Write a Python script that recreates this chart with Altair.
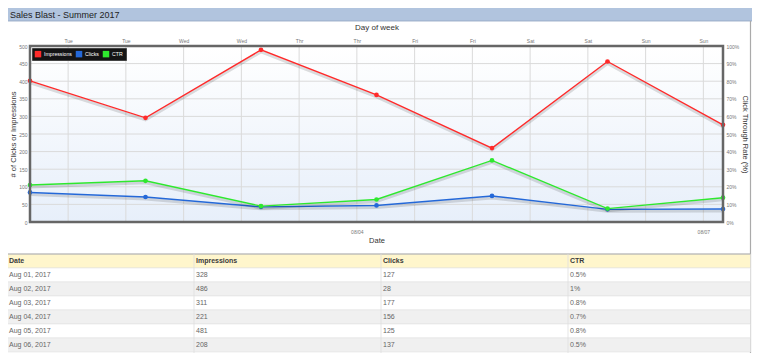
import altair as alt
import pandas as pd

TITLE = "Sales Blast - Summer 2017"

# --- chart data ---
points_t = [0, 1, 2, 3, 4, 5, 6]
impressions = [401, 296, 489, 361, 210, 456, 276]
clicks = [84, 71, 43, 47, 74, 36, 37]
ctr = [21.0, 23.4, 9.0, 12.8, 35.0, 7.6, 13.8]

series_names = ["Impressions", "Clicks", "CTR"]
series_colors = ["#ff2a2a", "#2468d8", "#2ee82e"]

day_tick_values = [0.33, 0.83, 1.33, 1.83, 2.33, 2.83, 3.33, 3.83, 4.33, 4.83, 5.33, 5.83]
day_tick_labels = ["Tue", "Tue", "Wed", "Wed", "Thr", "Thr", "Fri", "Fri", "Sat", "Sat", "Sun", "Sun"]
date_tick_values = [2.83, 5.83]
date_tick_labels = ["08/04", "08/07"]
left_ticks = [0, 50, 100, 150, 200, 250, 300, 350, 400, 450, 500]
right_ticks = [0, 10, 20, 30, 40, 50, 60, 70, 80, 90, 100]
hgrid = [50, 100, 150, 200, 250, 300, 350, 400, 450]

# --- table data ---
table_headers = ["Date", "Impressions", "Clicks", "CTR"]
table_dates = ["Aug 01, 2017", "Aug 02, 2017", "Aug 03, 2017", "Aug 04, 2017", "Aug 05, 2017", "Aug 06, 2017"]
table_impr = ["328", "486", "311", "221", "481", "208"]
table_clicks = ["127", "28", "177", "156", "125", "137"]
table_ctr = ["0.5%", "1%", "0.8%", "0.7%", "0.8%", "0.5%"]

W, H = 693, 176
PAD_L, PAD_T, PAD_R, PAD_B = 22, 38, 29, 131
RIGHT_EDGE = W + PAD_R - 1.5
FONT = "Liberation Sans"


def label_expr(values, labels):
    expr = "''"
    for v, l in reversed(list(zip(values, labels))):
        expr = f"abs(datum.value - {v}) < 0.01 ? '{l}' : ({expr})"
    return expr


xscale = alt.Scale(domain=[0, 6], nice=False, zero=False)
lscale = alt.Scale(domain=[0, 500], nice=False)
rscale = alt.Scale(domain=[0, 100], nice=False)
color_scale = alt.Scale(domain=series_names, range=series_colors)
legend = alt.Legend(
    orient="top-left", direction="horizontal", offset=2, padding=2.5,
    fillColor="#141414", strokeColor="#444", symbolType="square",
    symbolSize=42, symbolStrokeWidth=0, labelFontSize=5.2, labelColor="white",
    labelOffset=2.5, columnPadding=3, labelFont=FONT,
)
axis_common = dict(ticks=False, domain=False, grid=False, labelFontSize=5,
                   labelColor="#777", titleFontSize=7.5, titleColor="#333",
                   titleFontWeight="normal", labelFont=FONT, titleFont=FONT)

df_main = pd.DataFrame({"t": points_t, "Impressions": impressions,
                        "Clicks": clicks, "CTR": ctr})

one = alt.Data(values=[{"k": 1}])

# background gradient
bg = alt.Chart(one).mark_rect(
    fill=alt.Gradient(gradient="linear",
                      stops=[alt.GradientStop(color="#ffffff", offset=0),
                             alt.GradientStop(color="#e7effa", offset=1)],
                      x1=0, x2=0, y1=0, y2=1)
).encode(x=alt.value(0), x2=alt.value(W), y=alt.value(0), y2=alt.value(H))

grid_h = alt.Chart(pd.DataFrame({"v": hgrid})).mark_rule(color="#dadada", strokeWidth=1).encode(
    y=alt.Y("v:Q", scale=lscale, axis=None))
grid_v = alt.Chart(pd.DataFrame({"v": day_tick_values})).mark_rule(color="#dadada", strokeWidth=1).encode(
    x=alt.X("v:Q", scale=xscale, axis=None))

# impressions + clicks on left axis
left_base = alt.Chart(df_main).transform_fold(
    ["Impressions", "Clicks"], as_=["series", "value"]
).encode(
    x=alt.X("t:Q", scale=xscale, axis=alt.Axis(
        orient="bottom", values=date_tick_values,
        labelExpr=label_expr(date_tick_values, date_tick_labels),
        title="Date", labelPadding=7, titlePadding=2, **axis_common)),
    y=alt.Y("value:Q", scale=lscale, axis=alt.Axis(
        orient="left", values=left_ticks, title="# of Clicks or Impressions",
        labelPadding=3, titlePadding=1, **axis_common)),
    color=alt.Color("series:N", scale=color_scale, legend=legend, title=None),
)
left_layer = alt.layer(
    left_base.mark_line(strokeWidth=3, opacity=0.13, yOffset=2).encode(
        color=alt.value("#000"), detail="series:N"),
    left_base.mark_line(strokeWidth=1.4),
    left_base.mark_circle(size=22, opacity=1),
)

# CTR on right axis
right_base = alt.Chart(df_main).transform_calculate(series="'CTR'").encode(
    x=alt.X("t:Q", scale=xscale, axis=alt.Axis(
        orient="top", values=day_tick_values,
        labelExpr=label_expr(day_tick_values, day_tick_labels),
        title="Day of week", labelPadding=3, titlePadding=7,
        **{**axis_common, "titleFontSize": 8})),
    y=alt.Y("CTR:Q", scale=rscale, axis=alt.Axis(
        orient="right", values=right_ticks, labelExpr="datum.value + '%'",
        title="Click Through Rate (%)", labelPadding=3, titlePadding=2,
        **axis_common)),
    color=alt.Color("series:N", scale=color_scale, legend=legend, title=None),
)
right_layer = alt.layer(
    right_base.mark_line(strokeWidth=3, opacity=0.13, yOffset=2).encode(color=alt.value("#000")),
    right_base.mark_line(strokeWidth=1.4),
    right_base.mark_circle(size=22, opacity=1),
)

border = alt.Chart(one).mark_rect(fillOpacity=0, stroke="#666", strokeWidth=2.5).encode(
    x=alt.value(0), x2=alt.value(W), y=alt.value(0), y2=alt.value(H))

# header bar
header_bg = alt.Chart(one).mark_rect(fill="#b1c4de", stroke="#8fa3c0", strokeWidth=0.8).encode(
    x=alt.value(-23), x2=alt.value(W + PAD_R + 1), y=alt.value(-39), y2=alt.value(-25))
header_txt = alt.Chart(one).mark_text(
    align="left", baseline="middle", fontSize=9, color="#222", font=FONT
).encode(x=alt.value(-20), y=alt.value(-31.5), text=alt.value(TITLE))
panel_right = alt.Chart(one).mark_rule(color="#aaaaaa", strokeWidth=1.2).encode(
    x=alt.value(RIGHT_EDGE), y=alt.value(-25), y2=alt.value(H + PAD_B))

# table
tbl_y = alt.Scale(domain=[0, 7], range=[208, 306], nice=False, zero=False)
tbl_x = alt.Scale(domain=[0, 3], range=[-21, 540], nice=False, zero=False)

row_kind = ["hdr"] + ["odd" if i % 2 == 0 else "even" for i in range(len(table_dates))]
rows_df = pd.DataFrame({"r0": list(range(len(row_kind))), "kind": row_kind})
rows_df["r1"] = rows_df["r0"] + 1
tbl_rows = alt.Chart(rows_df).mark_rect(stroke="#e3e3e3", strokeWidth=0.6).encode(
    x=alt.value(-23), x2=alt.value(RIGHT_EDGE),
    y=alt.Y("r0:Q", scale=tbl_y, axis=None), y2="r1:Q",
    fill=alt.Fill("kind:N", scale=alt.Scale(domain=["hdr", "odd", "even"],
                                            range=["#fff6cc", "#ffffff", "#f0f0f0"]),
                  legend=None),
)
tbl_top = alt.Chart(pd.DataFrame({"r": [0]})).mark_rule(color="#a8a8a8", strokeWidth=1.2).encode(
    y=alt.Y("r:Q", scale=tbl_y, axis=None), x=alt.value(-23), x2=alt.value(RIGHT_EDGE))
tbl_sep = alt.Chart(pd.DataFrame({"c": [1, 2, 3]})).mark_rule(color="#dedede", strokeWidth=0.8, xOffset=-2).encode(
    x=alt.X("c:Q", scale=tbl_x, axis=None), y=alt.value(208), y2=alt.value(H + PAD_B))

hdr_df = pd.DataFrame({"col": list(range(4)), "rm": [0.5] * 4, "txt": table_headers})
cells = []
for i in range(len(table_dates)):
    for j, col in enumerate([table_dates, table_impr, table_clicks, table_ctr]):
        cells.append({"col": j, "rm": i + 1.5, "txt": col[i]})
cells_df = pd.DataFrame(cells)

tbl_hdr_txt = alt.Chart(hdr_df).mark_text(
    align="left", baseline="middle", fontSize=7, fontWeight="bold", color="#3a3a3a", font=FONT
).encode(x=alt.X("col:Q", scale=tbl_x, axis=None), y=alt.Y("rm:Q", scale=tbl_y, axis=None), text="txt:N")
tbl_txt = alt.Chart(cells_df).mark_text(
    align="left", baseline="middle", fontSize=7, color="#666", font=FONT
).encode(x=alt.X("col:Q", scale=tbl_x, axis=None), y=alt.Y("rm:Q", scale=tbl_y, axis=None), text="txt:N")

chart = alt.layer(
    header_bg, header_txt, panel_right,
    bg, grid_h, grid_v, left_layer, right_layer, border,
    tbl_rows, tbl_top, tbl_sep, tbl_hdr_txt, tbl_txt,
).resolve_scale(
    x="independent", y="independent"
).properties(
    width=W, height=H,
    autosize=alt.AutoSizeParams(type="none"),
    padding={"left": PAD_L, "top": PAD_T, "right": PAD_R, "bottom": PAD_B},
    background="white",
).configure_view(strokeWidth=0).configure(font=FONT)

chart.save("out.html", embed_options={"renderer": "svg", "actions": False})
